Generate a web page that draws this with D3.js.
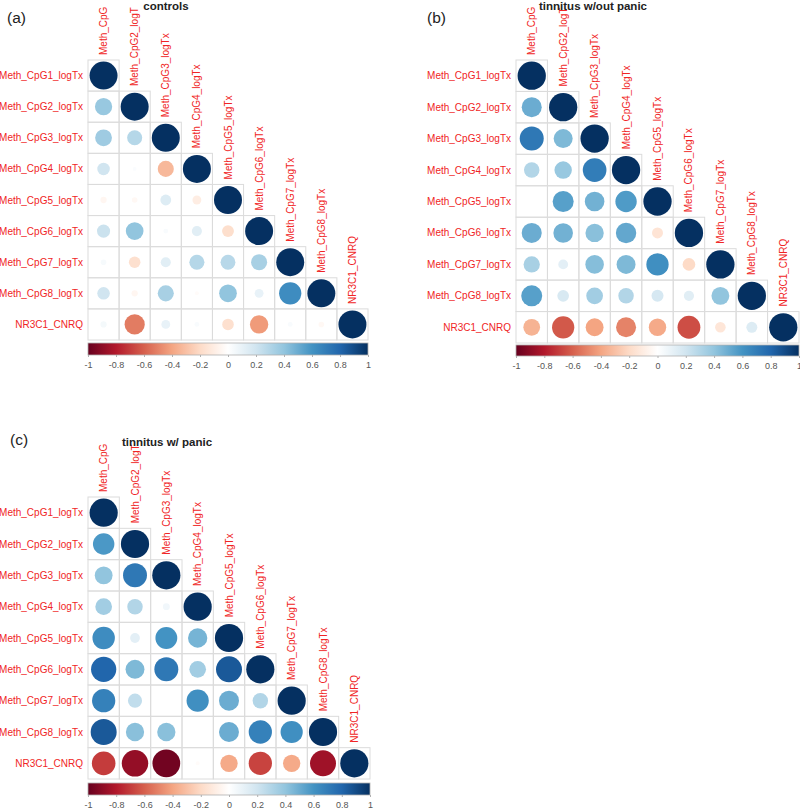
<!DOCTYPE html>
<html>
<head>
<meta charset="utf-8">
<script src="https://cdn.jsdelivr.net/npm/d3@7"></script>
<style>
  html, body { margin: 0; padding: 0; background: #fff; }
  svg { display: block; font-family: "Liberation Sans", Arial, sans-serif; }
</style>
</head>
<body>
<svg id="chart" width="800" height="810"></svg>
<script>
// ---- data ----
const rowLabels = ["Meth_CpG1_logTx","Meth_CpG2_logTx","Meth_CpG3_logTx","Meth_CpG4_logTx",
  "Meth_CpG5_logTx","Meth_CpG6_logTx","Meth_CpG7_logTx","Meth_CpG8_logTx","NR3C1_CNRQ"];
// column labels as visible (cropped at top in the source figure)
const colLabels = ["Meth_CpG","Meth_CpG2_logT","Meth_CpG3_logTx","Meth_CpG4_logTx",
  "Meth_CpG5_logTx","Meth_CpG6_logTx","Meth_CpG7_logTx","Meth_CpG8_logTx","NR3C1_CNRQ"];
const colorTicks = [-1,-0.8,-0.6,-0.4,-0.2,0,0.2,0.4,0.6,0.8,1];
const rdbu = ["#67001F","#B2182B","#D6604D","#F4A582","#FDDBC7","#FFFFFF",
  "#D1E5F0","#92C5DE","#4393C3","#2166AC","#053061"];

// lower-triangle correlations (row i, columns 0..i-1); diagonal = 1
const controls = [
  [],
  [0.38],
  [0.36, 0.29],
  [0.20, 0.02, -0.33],
  [-0.05, -0.04, 0.15, -0.10],
  [0.22, 0.40, 0.03, 0.13, -0.18],
  [0.04, -0.17, 0.13, 0.29, 0.28, 0.33],
  [0.20, -0.05, 0.33, -0.02, 0.40, 0.10, 0.63],
  [0.05, -0.52, 0.10, 0.03, -0.17, -0.43, 0.03, -0.04]
];
const noPanic = [
  [],
  [0.50],
  [0.72, 0.45],
  [0.30, 0.38, 0.70],
  [0.00, 0.55, 0.48, 0.57],
  [0.50, 0.48, 0.42, 0.52, -0.15],
  [0.33, 0.12, 0.43, 0.45, 0.62, -0.20],
  [0.55, 0.17, 0.35, 0.30, 0.18, 0.13, 0.40],
  [-0.35, -0.62, -0.40, -0.50, -0.38, -0.65, -0.14, 0.15]
];
const withPanic = [
  [],
  [0.58],
  [0.40, 0.72],
  [0.35, 0.30, 0.06],
  [0.63, 0.12, 0.60, 0.47],
  [0.80, 0.45, 0.72, 0.35, 0.85],
  [0.68, 0.25, 0.00, 0.62, 0.50, 0.30],
  [0.85, 0.42, 0.42, 0.00, 0.50, 0.68, 0.62],
  [-0.70, -0.88, -0.97, -0.02, -0.38, -0.68, -0.38, -0.85]
];

const panels = [
  {tag:"(a)", title:"controls", data:controls,
   x0:88, y0:60, size:280, tagX:7, tagY:23, titleX:166, titleY:10,
   barY:343, barH:12},
  {tag:"(b)", title:"tinnitus w/out panic", data:noPanic,
   x0:516, y0:60, size:283, tagX:427, tagY:23, titleX:593, titleY:10,
   barY:345, barH:11},
  {tag:"(c)", title:"tinnitus w/ panic", data:withPanic,
   x0:88, y0:497, size:282, tagX:10, tagY:445, titleX:167, titleY:446,
   barY:783, barH:12}
];

const svg = d3.select("#chart");
const color = d3.scaleLinear().domain(colorTicks).range(rdbu).interpolate(d3.interpolateRgb);

// gradient
const defs = svg.append("defs");
const grad = defs.append("linearGradient").attr("id","rdbu").attr("x1","0%").attr("x2","100%");
colorTicks.forEach((t,i) => grad.append("stop")
  .attr("offset", ((t+1)/2*100)+"%").attr("stop-color", rdbu[i]));

panels.forEach(p => {
  const n = rowLabels.length;
  const x = d3.scaleBand().domain(d3.range(n)).range([p.x0, p.x0 + p.size]);
  const y = d3.scaleBand().domain(d3.range(n)).range([p.y0, p.y0 + p.size]);
  const cw = x.bandwidth();
  const rad = d3.scaleSqrt().domain([0,1]).range([0, cw*0.45]);
  const g = svg.append("g");

  const cells = [];
  for (let i = 0; i < n; i++) {
    for (let j = 0; j <= i; j++) {
      cells.push({i, j, v: j === i ? 1 : p.data[i][j]});
    }
  }
  g.selectAll("rect.cell").data(cells).join("rect")
    .attr("class","cell")
    .attr("x", d => x(d.j)).attr("y", d => y(d.i))
    .attr("width", cw).attr("height", y.bandwidth())
    .attr("fill","none").attr("stroke","#dcdcdc").attr("stroke-width",1);
  g.selectAll("circle").data(cells).join("circle")
    .attr("cx", d => x(d.j) + cw/2).attr("cy", d => y(d.i) + y.bandwidth()/2)
    .attr("r", d => rad(Math.abs(d.v)))
    .attr("fill", d => color(d.v));

  // row labels
  g.selectAll("text.row").data(rowLabels).join("text")
    .attr("class","row")
    .attr("x", p.x0 - 5).attr("y", (d,i) => y(i) + y.bandwidth()/2)
    .attr("dy","0.35em").attr("text-anchor","end")
    .attr("font-size", 10).attr("fill","#f02525").text(d => d);
  // column labels (rotated, above the diagonal cell)
  g.selectAll("text.col").data(colLabels).join("text")
    .attr("class","col")
    .attr("transform", (d,i) => `translate(${x(i) + cw/2},${y(i) - 5}) rotate(-90)`)
    .attr("dy","0.35em").attr("text-anchor","start")
    .attr("font-size", 10).attr("fill","#f02525").text(d => d);

  // color bar
  const cb = d3.scaleLinear().domain([-1,1]).range([p.x0, p.x0 + p.size]);
  g.append("rect").attr("x", p.x0).attr("y", p.barY)
    .attr("width", p.size).attr("height", p.barH)
    .attr("fill","url(#rdbu)").attr("stroke","#b0b0b0").attr("stroke-width",0.8);
  const axis = d3.axisBottom(cb).tickValues(colorTicks).tickSize(2).tickPadding(5)
    .tickFormat(d => String(d).replace("\u2212","-"));
  const ag = g.append("g").attr("transform", `translate(0,${p.barY + p.barH})`).call(axis);
  ag.select(".domain").remove();
  ag.selectAll(".tick line").attr("stroke","#b0b0b0");
  ag.selectAll(".tick text").attr("font-size", 9).attr("fill","#555")
    .attr("font-family","Liberation Sans, Arial, sans-serif");

  // title and tag
  g.append("text").attr("x", p.titleX).attr("y", p.titleY).attr("text-anchor","middle")
    .attr("font-size", 11.5).attr("font-weight","bold").attr("fill","#222").text(p.title);
  g.append("text").attr("x", p.tagX).attr("y", p.tagY)
    .attr("font-size", 15.5).attr("fill","#222").text(p.tag);
});
</script>
</body>
</html>
